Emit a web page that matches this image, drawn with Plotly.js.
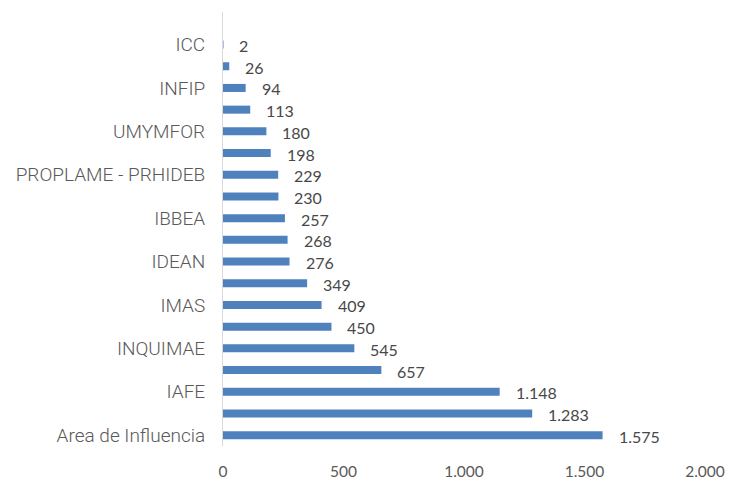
<!DOCTYPE html>
<html><head><meta charset="utf-8">
<script src="https://cdn.plot.ly/plotly-3.0.1.min.js"></script>
<style>html,body{margin:0;padding:0;background:#fff}#chart{width:729px;height:479px}</style>
</head><body><div id="chart"></div>
<script>
// categories from bottom to top
const categories = ["Area de Influencia","c2","IAFE","c4","INQUIMAE","c6","IMAS","c8","IDEAN","c10","IBBEA","c12","PROPLAME - PRHIDEB","c14","UMYMFOR","c16","INFIP","c18","ICC"];
const values = [1575,1283,1148,657,545,450,409,349,276,268,257,230,229,198,180,113,94,26,2];
const shownLabels = ["Area de Influencia","IAFE","INQUIMAE","IMAS","IDEAN","IBBEA","PROPLAME - PRHIDEB","UMYMFOR","INFIP","ICC"];
const xTicks = [0,500,1000,1500,2000];

const idx = categories.map((c,i)=>i);
const fmt = v => v.toLocaleString('de-DE');

const trace = {
  type:'bar', orientation:'h',
  x: values, y: idx,
  width: 0.37,
  marker:{color:'#4F81BD'},
  hoverinfo:'none'
};
const annotations = values.map((v,i)=>({
  x: v, y: i, xref:'x', yref:'y', text: fmt(v), showarrow:false,
  xanchor:'left', xshift:14, yshift:-1,
  font:{family:'Lato, Carlito, sans-serif', size:16, color:'#484848'}
}));
const tickvals = shownLabels.map(l=>categories.indexOf(l));

const layout = {
  width:729, height:479,
  margin:{l:223, r:24, t:12, b:33},
  paper_bgcolor:'#fff', plot_bgcolor:'#fff',
  separators:',.',
  showlegend:false,
  xaxis:{range:[0,2000], tickvals:xTicks, tickformat:',d', showgrid:false, zeroline:false,
    showline:false, ticks:'', ticklabelstandoff:14,
    tickfont:{family:'Lato, Carlito, sans-serif', size:15.5, color:'#595959'}},
  yaxis:{range:[-0.5,19.5], tickvals:tickvals, ticktext:shownLabels, showgrid:false, zeroline:false,
    showline:true, linecolor:'#D9D9D9', linewidth:1, ticks:'', ticklabelstandoff:13,
    tickfont:{family:'Roboto, sans-serif', size:19, color:'#595959', weight:300}},
  annotations: annotations
};
Plotly.newPlot('chart',[trace],layout,{staticPlot:true});
</script></body></html>
